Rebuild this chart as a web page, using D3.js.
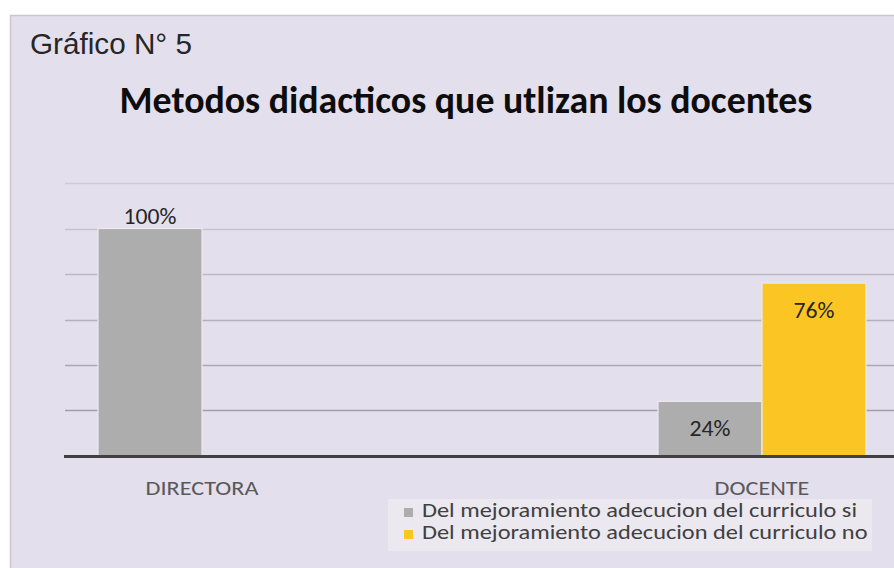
<!DOCTYPE html>
<html>
<head>
<meta charset="utf-8">
<script src="https://cdn.jsdelivr.net/npm/d3@7"></script>
<style>
  html, body { margin: 0; padding: 0; background: #ffffff; }
  svg { display: block; }
</style>
</head>
<body>
<svg id="chart" width="894" height="568"></svg>
<script>
// ---- data ----
const categories = ["DIRECTORA", "DOCENTE"];
const seriesNames = [
  "Del mejoramiento adecucion del curriculo si",
  "Del mejoramiento adecucion del curriculo no"
];
const valuesSi = [1.00, 0.24];
const valuesNo = [0.00, 0.76];
const yTicks = [0.2, 0.4, 0.6, 0.8, 1.0, 1.2];
const figureLabel = "Gráfico N° 5";
const chartTitle = "Metodos didacticos que utlizan los docentes";

const colors = ["#adadad", "#fbc523"];
const bodyFont = "Carlito, Lato, 'Open Sans', sans-serif";

const svg = d3.select("#chart");
const W = 894, H = 568;

// chart area background
svg.append("rect").attr("x", 10.5).attr("y", 15.5).attr("width", W).attr("height", H)
  .attr("fill", "#e4dfec").attr("stroke", "#c9c6cc").attr("stroke-width", 1.5);

// helpers
function fitWidth(sel, target) {
  const w = sel.node().getComputedTextLength();
  const fs = parseFloat(sel.attr("font-size"));
  sel.attr("font-size", (fs * target / w).toFixed(2));
}
function stretch(sel, factor) {
  sel.each(function () {
    const w = this.getComputedTextLength();
    d3.select(this).attr("textLength", (w * factor).toFixed(1))
      .attr("lengthAdjust", "spacingAndGlyphs");
  });
}

// figure label
const fl = svg.append("text").attr("x", 30).attr("y", 54)
  .attr("font-family", "'Liberation Sans', Arial, sans-serif")
  .attr("font-size", 26).attr("fill", "#262626").text(figureLabel);
fitWidth(fl, 162);

// chart title
const ct = svg.append("text").attr("x", 466).attr("y", 113).attr("text-anchor", "middle")
  .attr("font-family", bodyFont).attr("font-weight", "bold")
  .attr("font-size", 30).attr("fill", "#0d0d0d").text(chartTitle);
fitWidth(ct, 693);

// scales
const y = d3.scaleLinear().domain([0, 1.2]).range([456, 183]);
const x0 = d3.scaleBand().domain(categories).range([-78, 1042]);
const x1 = d3.scaleBand().domain(d3.range(seriesNames.length)).range([176, 384]);

// gridlines
svg.append("g").selectAll("line").data(yTicks).join("line")
  .attr("x1", 65).attr("x2", W)
  .attr("y1", d => Math.round(y(d)) + 0.5).attr("y2", d => Math.round(y(d)) + 0.5)
  .attr("stroke", (d, i) => d3.interpolateRgb("#a29ea9", "#cfcbd6")(i / (yTicks.length - 1)))
  .attr("stroke-width", 1.4);

// bars
const rows = categories.map((c, i) => ({ cat: c, vals: [valuesSi[i], valuesNo[i]] }));
const groups = svg.append("g").selectAll("g").data(rows).join("g")
  .attr("transform", d => `translate(${x0(d.cat)},0)`);

groups.selectAll("rect").data(d => d.vals.map((v, s) => ({ v, s }))).join("rect")
  .filter(d => d.v > 0)
  .attr("x", d => x1(d.s))
  .attr("y", d => y(d.v))
  .attr("width", x1.bandwidth())
  .attr("height", d => y(0) - y(d.v))
  .attr("fill", d => colors[d.s])
  .attr("stroke", "#ece9f1").attr("stroke-width", 1.2);

// data labels
const dl = groups.selectAll("text").data(d => d.vals.map((v, s) => ({ v, s }))).join("text")
  .filter(d => d.v > 0)
  .attr("x", d => x1(d.s) + x1.bandwidth() / 2)
  .attr("y", d => d.v >= 1 ? y(d.v) - 5 : y(d.v) + 35)
  .attr("text-anchor", "middle")
  .attr("font-family", bodyFont).attr("font-size", 21.5)
  .attr("fill", "#262626")
  .text(d => d3.format(".0%")(d.v));
stretch(dl, 1.1);

// baseline axis
svg.append("line").attr("x1", 64).attr("x2", W).attr("y1", y(0) + 0.5).attr("y2", y(0) + 0.5)
  .attr("stroke", "#404040").attr("stroke-width", 3.2);

// category labels
const cl = svg.append("g").selectAll("text").data(categories).join("text")
  .attr("x", d => x0(d) + x0.bandwidth() / 2)
  .attr("y", 495)
  .attr("text-anchor", "middle")
  .attr("font-family", bodyFont).attr("font-size", 20.5)
  .attr("fill", "#595959")
  .text(d => d);
stretch(cl, 1.18);

// legend
const lg = svg.append("g");
lg.append("rect").attr("x", 388).attr("y", 499).attr("width", 484).attr("height", 52)
  .attr("fill", "#ebe8f0");
const items = lg.selectAll("g").data(seriesNames).join("g")
  .attr("transform", (d, i) => `translate(0, ${i * 22})`);
items.append("rect").attr("x", 404).attr("y", 508).attr("width", 9).attr("height", 9)
  .attr("fill", (d, i) => colors[i]);
const lt = items.append("text").attr("x", 422).attr("y", 517)
  .attr("font-family", bodyFont).attr("font-size", 19.5)
  .attr("fill", "#404040")
  .text(d => d);
stretch(lt, 1.25);
</script>
</body>
</html>
